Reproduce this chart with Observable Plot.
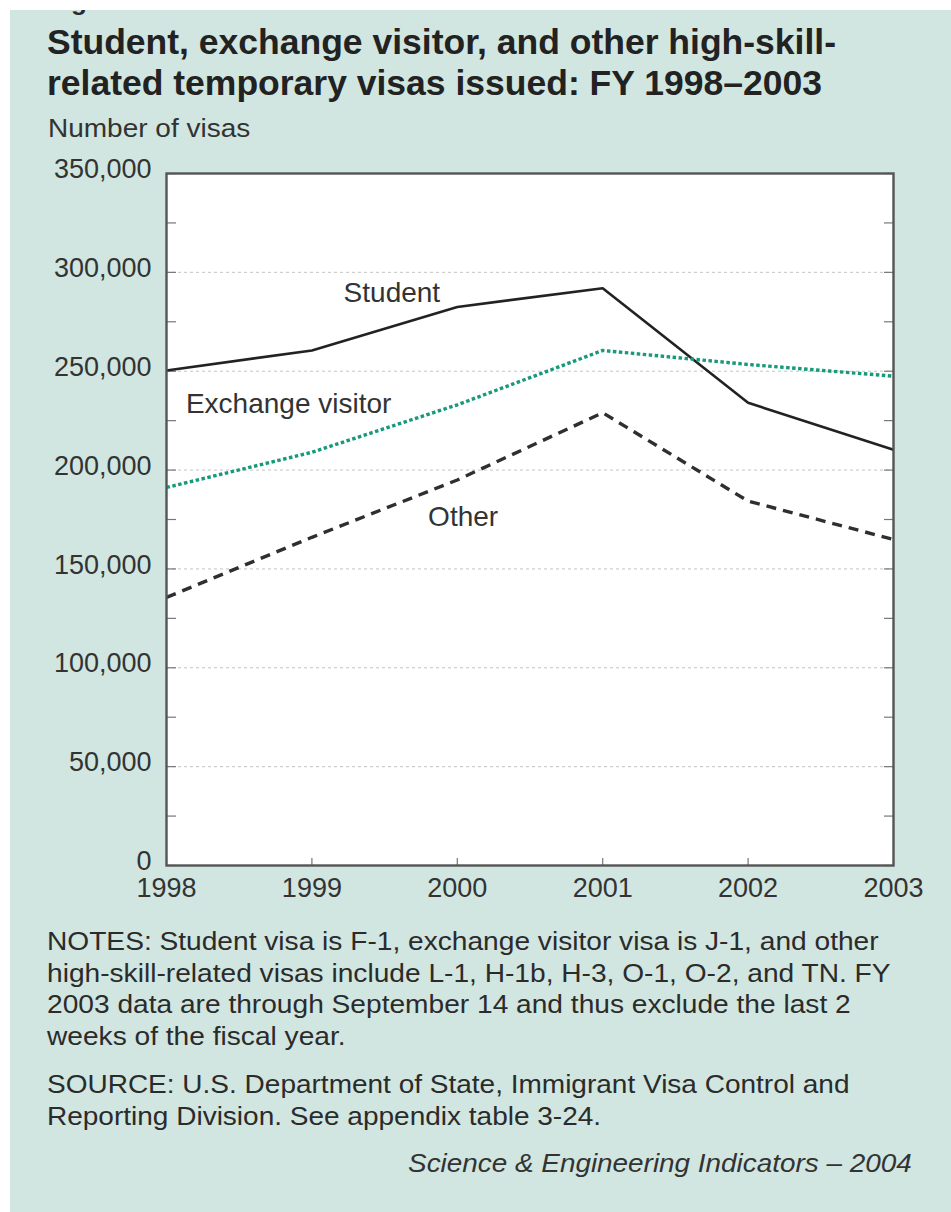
<!DOCTYPE html>
<html>
<head>
<meta charset="utf-8">
<script src="https://cdn.jsdelivr.net/npm/d3@7"></script>
<script src="https://cdn.jsdelivr.net/npm/@observablehq/plot@0.6"></script>
<style>
  html, body { margin: 0; padding: 0; background: #ffffff; width: 951px; height: 1212px; overflow: hidden; }
  #panel { position: absolute; left: 10px; top: 10px; width: 941px; height: 1202px; background: #d1e6e0; overflow: hidden;
           font-family: "Liberation Sans", Arial, Helvetica, sans-serif; color: #2b2b2b; }
  .abs { position: absolute; white-space: nowrap; }
  #fig { left: 38px; top: -24px; font-size: 26px; font-weight: bold; line-height: 30px; color: #2b2b2b; }
  #title { left: 37px; top: 12px; font-size: 35.5px; font-weight: bold; line-height: 40.5px; color: #222; }
  #ylab { left: 38px; top: 103px; font-size: 25px; line-height: 30px; color: #333; transform: scaleX(1.12); transform-origin: left center; }
  #chart { left: 0px; top: 140px; }
  #notes { left: 37px; top: 916px; font-size: 25px; line-height: 31.7px; color: #2b2b2b; transform: scaleX(1.125); transform-origin: left top; }
  #source { left: 37px; top: 1059px; font-size: 25px; line-height: 31.7px; color: #2b2b2b; transform: scaleX(1.12); transform-origin: left top; }
  #credit { right: 39px; top: 1137px; font-size: 25px; line-height: 32px; font-style: italic; color: #333; transform: scaleX(1.115); transform-origin: right top; }
</style>
</head>
<body>
<div id="panel">
  <div id="fig" class="abs">Figure 3-31</div>
  <div id="title" class="abs">Student, exchange visitor, and other high-skill-<br>related temporary visas issued: FY 1998–2003</div>
  <div id="ylab" class="abs">Number of visas</div>
  <div id="chart" class="abs"></div>
  <div id="notes" class="abs">NOTES: Student visa is F-1, exchange visitor visa is J-1, and other<br>high-skill-related visas include L-1, H-1b, H-3, O-1, O-2, and TN. FY<br>2003 data are through September 14 and thus exclude the last 2<br>weeks of the fiscal year.</div>
  <div id="source" class="abs">SOURCE: U.S. Department of State, Immigrant Visa Control and<br>Reporting Division. See appendix table 3-24.</div>
  <div id="credit" class="abs">Science &amp; Engineering Indicators – 2004</div>
</div>
<script>
// ---- Data ----
const years    = [1998, 1999, 2000, 2001, 2002, 2003];
const student  = [250400, 260500, 282500, 292000, 234000, 210300];
const exchange = [191200, 209000, 233000, 260500, 253400, 247500];
const other    = [135600, 166000, 195000, 229000, 184300, 164900];

const seriesNames = ["Student", "Exchange visitor", "Other"];
const yTickLabels = [0, 50000, 100000, 150000, 200000, 250000, 300000, 350000];
const yMinorTicks = [0, 25000, 50000, 75000, 100000, 125000, 150000, 175000, 200000, 225000, 250000, 275000, 300000, 325000, 350000];
const gridValues  = [50000, 100000, 150000, 200000, 250000, 300000];

// label anchor points (data space)
const labelYears  = [1999.55, 1998.84, 2000.04];
const labelValues = [289300, 233200, 176000];

// ---- Build tables ----
const rows = [];
[student, exchange, other].forEach((vals, i) => {
  years.forEach((yr, j) => rows.push({series: seriesNames[i], year: yr, value: vals[j]}));
});
const labels = seriesNames.map((s, i) => ({series: s, year: labelYears[i], value: labelValues[i]}));

const styles = {
  "Student":          {stroke: "#222222", strokeWidth: 2.6, dash: null},
  "Exchange visitor": {stroke: "#17997c", strokeWidth: 3.4, dash: "3.5,2.5"},
  "Other":            {stroke: "#2f2f2f", strokeWidth: 3.4, dash: "10,7"}
};

const fmt = d3.format(",");

const chart = Plot.plot({
  width: 941,
  height: 755,
  marginLeft: 156,
  marginRight: 58,
  marginTop: 23,
  marginBottom: 40,
  style: {background: "transparent", fontFamily: "'Liberation Sans', Arial, Helvetica, sans-serif", color: "#333"},
  x: {type: "linear", domain: [1998, 2003], label: null},
  y: {type: "linear", domain: [0, 350000], label: null},
  marks: [
    Plot.frame({fill: "white", stroke: "none"}),
    Plot.gridY(gridValues, {stroke: "#8a8a8a", strokeOpacity: 0.5, strokeDasharray: "3,3", strokeWidth: 1}),
    // inward minor ticks left/right and bottom
    Plot.axisY({anchor: "left", ticks: yMinorTicks, tickSize: -10, tickFormat: () => "", stroke: "#777", strokeWidth: 1.2, label: null}),
    Plot.axisY({anchor: "right", ticks: yMinorTicks, tickSize: -10, tickFormat: () => "", stroke: "#777", strokeWidth: 1.2, label: null}),
    Plot.axisX({anchor: "bottom", ticks: years, tickSize: -7, tickFormat: () => "", stroke: "#777", strokeWidth: 1.2, label: null}),
    // labelled axes
    Plot.axisY({anchor: "left", ticks: yTickLabels, tickSize: 0, tickPadding: 15, tickFormat: fmt, fontSize: 27, fill: "#333", dy: -4, label: null}),
    Plot.axisX({anchor: "bottom", ticks: years, tickSize: 0, tickPadding: 12, tickFormat: d => String(d), fontSize: 27, fill: "#333", label: null}),
    // series lines
    ...seriesNames.map(s => Plot.line(rows.filter(r => r.series === s), {
      x: "year", y: "value",
      stroke: styles[s].stroke, strokeWidth: styles[s].strokeWidth,
      strokeDasharray: styles[s].dash, strokeLinejoin: "miter", strokeLinecap: "butt"
    })),
    Plot.text(labels, {x: "year", y: "value", text: "series", fontSize: 28, fill: "#333", textAnchor: "middle"}),
    Plot.frame({stroke: "#555", strokeWidth: 2.4})
  ]
});
document.getElementById("chart").appendChild(chart);
</script>
</body>
</html>
